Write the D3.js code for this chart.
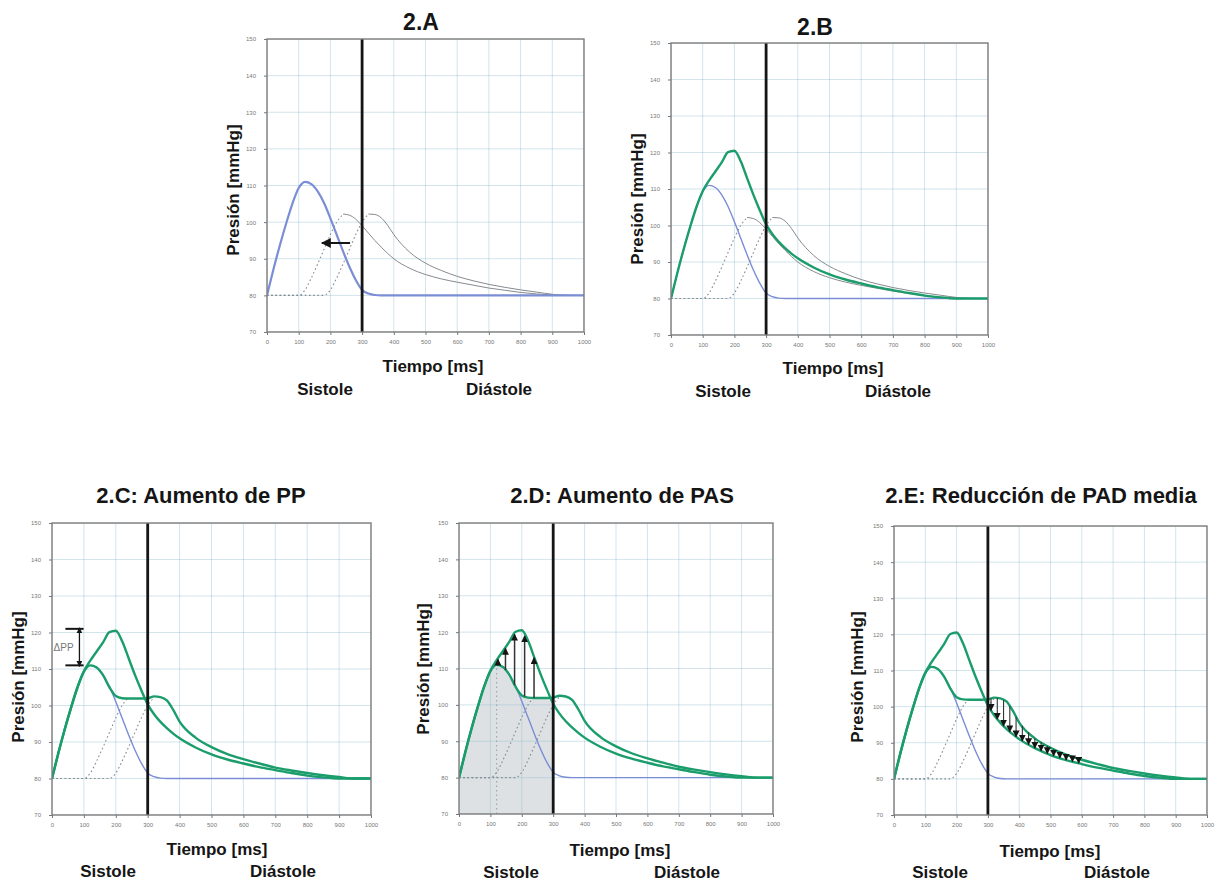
<!DOCTYPE html>
<html><head><meta charset="utf-8">
<script src="https://cdn.jsdelivr.net/npm/d3@7"></script>
<style>
body{margin:0;background:#fff;}
svg{display:block;}
text{font-family:"Liberation Sans",Arial,Helvetica,sans-serif;}
</style>
</head><body>
<svg id="c" width="1229" height="882"></svg>
<script>
// ---------------- DATA ----------------
const timeMs = [0,20,40,60,80,100,120,140,160,180,200,220,240,260,280,300,320,340,360,380,400,450,500,550,600,650,700,750,800,850,900,950,1000];
// forward (ejection) wave, mmHg
const forwardWave = [80,87,93.5,99.5,105,109.3,111,110.4,108.4,105.2,101,96.5,92,87.8,84.2,81.5,80.5,80.1,80,80,80,80,80,80,80,80,80,80,80,80,80,80,80];
// early reflected wave (peak ~240 ms)
const reflectedEarly = [80,80,80,80,80,80,81.5,84.8,88.6,92.6,96.6,100,102.2,101.9,100.8,99,97,95,93.2,91.5,90,87.4,85.7,84.5,83.6,82.8,82,81.4,80.8,80.4,80.1,80,80];
// late reflected wave (peak ~320 ms)
const reflectedLate = [80,80,80,80,80,80,80,80,80,80,81.5,84.8,88.6,92.6,96.6,100,102.2,102.1,101.2,99.2,96.6,91.8,88.8,86.8,85.2,84,83,82.2,81.5,80.9,80.3,80,80];
// resulting pressure wave with early reflection
const augmentedEarly = [80,87,93.5,99.5,105,109.4,112.3,114.8,117.3,120.1,120.5,117.6,113,108.4,104.2,100.3,97.6,95.5,93.8,92.3,91,88.5,86.6,85.2,84.1,83.1,82.3,81.5,80.8,80.3,80,80,80];
// resulting pressure wave with late reflection
const augmentedLate = [80,87,93.5,99.5,105,109.3,111,110.4,108.3,105,102.6,102,101.9,101.9,101.9,102,102.5,102.3,101.4,98.8,95.6,91.2,88.6,86.7,85.3,84.1,83,82.2,81.5,80.9,80.4,80,80];

const xTicks = [0,100,200,300,400,500,600,700,800,900,1000];
const yTicks = [70,80,90,100,110,120,130,140,150];
const panelTitles = ["2.A","2.B","2.C: Aumento de PP","2.D: Aumento de PAS","2.E: Reducción de PAD media"];
const phaseLabels = ["Sistole","Diástole"];
const xAxisLabel = "Tiempo [ms]";
const yAxisLabel = "Presión [mmHg]";
const ejectionEnd = 300;
const shiftArrowTimes = [262,173];
const shiftArrowLevel = 94.3;
const ppLevels = [111,121];
const ppSpan = [42,99];
const ppArrowTime = 86;
const ppLabel = "ΔPP";
const pasArrowTimes = [124,148,177,209,239];
const padArrowTimes = [310,330,350,370,390,410,430,450,470,490,510,530,550,570,590];
const peakTimeForward = 120;

// ---------------- LAYOUT ----------------
const panels = [
  {key:'A', x0:267, x1:584, yT:39, yB:332, title:[421,30,23], ylab:[233,190], xlab:[433,372], sis:[325,395], dia:[499,395]},
  {key:'B', x0:671, x1:988, yT:43, yB:335, title:[815,35,23], ylab:[637,199], xlab:[833,374], sis:[723,397], dia:[898,397]},
  {key:'C', x0:52, x1:371, yT:523, yB:815, title:[201,503,22], ylab:[18,677], xlab:[217,855], sis:[108,877], dia:[283,877]},
  {key:'D', x0:459, x1:773, yT:523, yB:814, title:[622,503,22], ylab:[423,669], xlab:[620,856], sis:[511,878], dia:[687,878]},
  {key:'E', x0:894, x1:1207, yT:526, yB:815, title:[1041,503,22], ylab:[857,677], xlab:[1050,857], sis:[940,878], dia:[1117,878]}
];

const GREEN = '#1b9d6b', BLUE = '#7b8dd5', GRAY = '#858a8f', INK = '#151515';

const svg = d3.select('#c');
const defs = svg.append('defs');
function marker(id, size, color, orient){
  defs.append('marker').attr('id',id).attr('viewBox','0 -5 10 10')
    .attr('refX',9).attr('refY',0).attr('markerUnits','userSpaceOnUse')
    .attr('markerWidth',size).attr('markerHeight',size).attr('orient',orient||'auto')
    .append('path').attr('d','M0,-5L10,0L0,5Z').attr('fill',color);
}
marker('hL',10,INK); marker('hM',7,INK); marker('hS',7,INK);
marker('hD',6,INK,'auto-start-reverse');

function interp(series, t){
  for(let i=0;i<timeMs.length-1;i++){
    if(t>=timeMs[i] && t<=timeMs[i+1]){
      const f=(t-timeMs[i])/(timeMs[i+1]-timeMs[i]);
      return series[i]+(series[i+1]-series[i])*f;
    }
  }
  return series[series.length-1];
}
const pts = s => timeMs.map((t,i)=>[t,s[i]]);
function peakT(s){ let m=0; s.forEach((v,i)=>{ if(v>s[m]) m=i; }); return timeMs[m]; }

panels.forEach((p,pi)=>{
  const x = d3.scaleLinear().domain([0,1000]).range([p.x0,p.x1]);
  const y = d3.scaleLinear().domain([70,150]).range([p.yB,p.yT]);
  const line = d3.line().x(d=>x(d[0])).y(d=>y(d[1])).curve(d3.curveMonotoneX);
  const g = svg.append('g');
  const clipId = 'clip'+p.key;
  defs.append('clipPath').attr('id',clipId).append('rect')
    .attr('x',p.x0).attr('y',p.yT).attr('width',p.x1-p.x0).attr('height',p.yB-p.yT);
  const plot = g.append('g').attr('clip-path',`url(#${clipId})`);

  // shading (D)
  if(p.key==='D'){
    const area = d3.area().x(d=>x(d[0])).y0(y(70)).y1(d=>y(d[1])).curve(d3.curveMonotoneX);
    plot.append('path').datum(pts(augmentedLate).filter(d=>d[0]<=ejectionEnd))
      .attr('d',area).attr('fill','#dde1e4');
  }
  // grid
  plot.selectAll('.gx').data(xTicks).join('line')
    .attr('x1',d=>x(d)).attr('x2',d=>x(d)).attr('y1',p.yT).attr('y2',p.yB)
    .attr('stroke','#8fbcd0').attr('stroke-opacity',0.4).attr('stroke-width',1);
  plot.selectAll('.gy').data(yTicks).join('line')
    .attr('y1',d=>y(d)).attr('y2',d=>y(d)).attr('x1',p.x0).attr('x2',p.x1)
    .attr('stroke','#8fbcd0').attr('stroke-opacity',0.4).attr('stroke-width',1);

  if(p.key==='D'){
    plot.append('line').attr('x1',x(peakTimeForward)).attr('x2',x(peakTimeForward))
      .attr('y1',y(70)).attr('y2',y(interp(augmentedLate,peakTimeForward)))
      .attr('stroke','#9a9a9a').attr('stroke-width',1).attr('stroke-dasharray','1.5,3');
  }

  // reflected waves
  [reflectedEarly, reflectedLate].forEach(s=>{
    const pk = peakT(s);
    const all = pts(s);
    const rise = all.filter(d=>d[0]<=pk);
    const fall = all.filter(d=>d[0]>=pk);
    plot.append('path').datum(rise).attr('d',line).attr('fill','none')
      .attr('stroke',GRAY).attr('stroke-width',1.1).attr('stroke-dasharray','1.6,2.6');
    if(p.key==='A'||p.key==='B'){
      plot.append('path').datum(fall).attr('d',line).attr('fill','none')
        .attr('stroke',GRAY).attr('stroke-width',1);
    }
  });

  // forward wave
  plot.append('path').datum(pts(forwardWave)).attr('d',line).attr('fill','none')
    .attr('stroke',BLUE).attr('stroke-width',p.key==='A'?2.2:1.4);

  // green resulting waves
  const greens = p.key==='A'?[]:(p.key==='B'?[augmentedEarly]:[augmentedLate,augmentedEarly]);
  greens.forEach(s=>{
    plot.append('path').datum(pts(s)).attr('d',line).attr('fill','none')
      .attr('stroke',GREEN).attr('stroke-width',2.4).attr('stroke-linejoin','round');
  });

  // annotations
  if(p.key==='A'){
    g.append('line').attr('x1',x(shiftArrowTimes[0])).attr('x2',x(shiftArrowTimes[1]))
      .attr('y1',y(shiftArrowLevel)).attr('y2',y(shiftArrowLevel))
      .attr('stroke',INK).attr('stroke-width',2).attr('marker-end','url(#hL)');
  }
  if(p.key==='C'){
    ppLevels.forEach(v=>{
      g.append('line').attr('x1',x(ppSpan[0])).attr('x2',x(ppSpan[1]))
        .attr('y1',y(v)).attr('y2',y(v)).attr('stroke',INK).attr('stroke-width',2);
    });
    g.append('line').attr('x1',x(ppArrowTime)).attr('x2',x(ppArrowTime))
      .attr('y1',y(ppLevels[0])+1).attr('y2',y(ppLevels[1])-1)
      .attr('stroke',INK).attr('stroke-width',1.3)
      .attr('marker-start','url(#hD)').attr('marker-end','url(#hD)');
    g.append('text').attr('x',x(5)).attr('y',y((ppLevels[0]+ppLevels[1])/2)+3.5)
      .attr('font-size',10).attr('fill','#777').text(ppLabel);
  }
  if(p.key==='D'){
    pasArrowTimes.forEach(t=>{
      g.append('line').attr('x1',x(t)).attr('x2',x(t))
        .attr('y1',y(interp(augmentedLate,t))).attr('y2',y(interp(augmentedEarly,t))+1)
        .attr('stroke','#333').attr('stroke-width',1.5).attr('marker-end','url(#hM)');
    });
  }
  if(p.key==='E'){
    padArrowTimes.forEach(t=>{
      g.append('line').attr('x1',x(t)).attr('x2',x(t))
        .attr('y1',y(interp(augmentedLate,t))).attr('y2',y(interp(augmentedEarly,t)))
        .attr('stroke','#333').attr('stroke-width',1.1).attr('marker-end','url(#hS)');
    });
  }

  // end of systole line
  g.append('line').attr('x1',x(ejectionEnd)).attr('x2',x(ejectionEnd))
    .attr('y1',p.yT).attr('y2',p.yB).attr('stroke',INK).attr('stroke-width',2.8);

  // frame
  g.append('rect').attr('x',p.x0).attr('y',p.yT).attr('width',p.x1-p.x0).attr('height',p.yB-p.yT)
    .attr('fill','none').attr('stroke','#7d7d7d').attr('stroke-width',1.4);

  // axes
  const ay = g.append('g').attr('transform',`translate(${p.x0},0)`)
    .call(d3.axisLeft(y).tickValues(yTicks).tickSize(3).tickPadding(8).tickFormat(d3.format('d')));
  const ax = g.append('g').attr('transform',`translate(0,${p.yB})`)
    .call(d3.axisBottom(x).tickValues(xTicks).tickSize(3).tickPadding(5).tickFormat(d3.format('d')));
  [ax,ay].forEach(a=>{
    a.select('.domain').remove();
    a.selectAll('line').attr('stroke','#777');
    a.selectAll('text').attr('font-size',6).attr('fill','#777')
      .attr('font-family','"Liberation Sans",Arial,sans-serif');
  });

  // texts
  g.append('text').attr('x',p.title[0]).attr('y',p.title[1]).attr('text-anchor','middle')
    .attr('font-size',p.title[2]).attr('font-weight','bold').attr('fill',INK).text(panelTitles[pi]);
  g.append('text').attr('transform',`translate(${p.ylab[0]},${p.ylab[1]}) rotate(-90)`)
    .attr('text-anchor','middle').attr('dominant-baseline','central')
    .attr('font-size',17).attr('font-weight','bold').attr('fill',INK).text(yAxisLabel);
  g.append('text').attr('x',p.xlab[0]).attr('y',p.xlab[1]).attr('text-anchor','middle')
    .attr('font-size',17).attr('font-weight','bold').attr('fill',INK).text(xAxisLabel);
  g.append('text').attr('x',p.sis[0]).attr('y',p.sis[1]).attr('text-anchor','middle')
    .attr('font-size',17).attr('font-weight','bold').attr('fill',INK).text(phaseLabels[0]);
  g.append('text').attr('x',p.dia[0]).attr('y',p.dia[1]).attr('text-anchor','middle')
    .attr('font-size',17).attr('font-weight','bold').attr('fill',INK).text(phaseLabels[1]);
});
</script>
</body></html>
